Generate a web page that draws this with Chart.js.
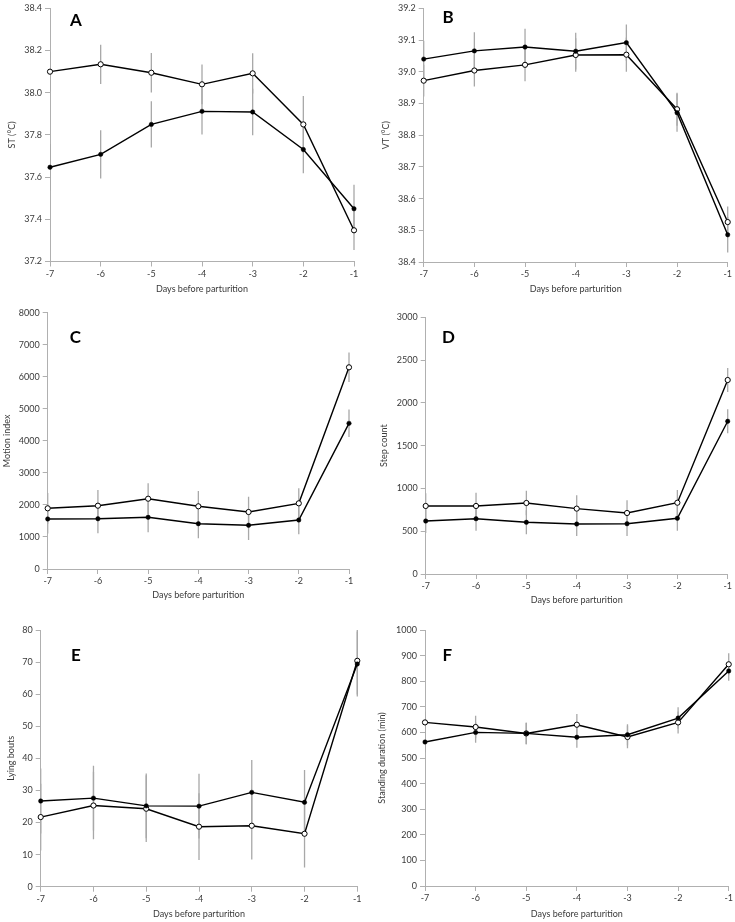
<!DOCTYPE html>
<html>
<head>
<meta charset="utf-8">
<script src="https://cdn.jsdelivr.net/npm/chart.js@4.4.1/dist/chart.umd.min.js"></script>
<style>
  html, body { margin: 0; padding: 0; background: #fff; }
  #page { position: relative; width: 735px; height: 922px; overflow: hidden; }
  canvas { position: absolute; }
</style>
</head>
<body>
<div id="page">
  <canvas id="chartA" width="365" height="300" style="left:0px;top:0px"></canvas>
  <canvas id="chartB" width="370" height="300" style="left:365px;top:0px"></canvas>
  <canvas id="chartC" width="365" height="310" style="left:0px;top:300px"></canvas>
  <canvas id="chartD" width="370" height="310" style="left:365px;top:300px"></canvas>
  <canvas id="chartE" width="365" height="312" style="left:0px;top:610px"></canvas>
  <canvas id="chartF" width="370" height="312" style="left:365px;top:610px"></canvas>
</div>
<script>
// x categories shared by all panels
const days = ['-7', '-6', '-5', '-4', '-3', '-2', '-1'];

// A - ST
const stFilled = [37.647, 37.708, 37.85, 37.912, 37.909, 37.731, 37.45];
const stFilledErr = [0.11, 0.114, 0.11, 0.11, 0.11, 0.112, 0.114];
const stOpen = [38.10, 38.135, 38.095, 38.04, 38.092, 37.85, 37.348];
const stOpenErr = [0.094, 0.093, 0.094, 0.094, 0.095, 0.135, 0.093];

// B - VT
const vtFilled = [39.04, 39.066, 39.078, 39.065, 39.092, 38.871, 38.486];
const vtFilledErr = [0.058, 0.059, 0.058, 0.058, 0.057, 0.06, 0.056];
const vtOpen = [38.972, 39.004, 39.022, 39.053, 39.054, 38.882, 38.526];
const vtOpenErr = [0.05, 0.05, 0.052, 0.053, 0.054, 0.052, 0.049];

// C - motion index
const miFilled = [1561, 1570, 1614, 1414, 1364, 1529, 4547];
const miFilledErr = [455, 456, 469, 456, 459, 446, 430];
const miOpen = [1894, 1976, 2194, 1957, 1779, 2050, 6295];
const miOpenErr = [480, 490, 481, 476, 478, 469, 460];

// D - step count
const scFilled = [619, 646, 604, 584, 588, 651, 1785];
const scFilledErr = [140, 140, 140, 140, 144, 145, 140];
const scOpen = [795, 795, 830, 764, 713, 833, 2267];
const scOpenErr = [150, 155, 144, 156, 148, 149, 141];

// E - lying bouts
const lbFilled = [26.7, 27.6, 25.2, 25.1, 29.4, 26.3, 69.4];
const lbFilledErr = [10.1, 10.1, 10.1, 10.1, 10.1, 10.1, 10.1];
const lbOpen = [21.7, 25.3, 24.3, 18.7, 19.0, 16.5, 70.4];
const lbOpenErr = [10.4, 10.5, 10.4, 10.4, 10.5, 10.5, 10.5];

// F - standing duration
const sdFilled = [562.5, 600, 596, 581, 591, 656, 840];
const sdFilledErr = [40, 40, 42, 41, 41, 42, 38];
const sdOpen = [639, 621, 596, 630, 582, 639, 866];
const sdOpenErr = [42, 44, 42, 42, 44, 43, 43];

Chart.defaults.font.family = 'Lato, "Open Sans", sans-serif';

const axisGrey = '#b0b0b0';
const textColor = '#3a3a3a';
const FS = 9;
const LH = FS * 1.2;

// grey vertical error bars, drawn under the lines
const errorBars = {
  id: 'errorBars',
  beforeDatasetsDraw(chart) {
    const { ctx, chartArea } = chart;
    const y = chart.scales.y;
    ctx.save();
    ctx.beginPath();
    ctx.rect(chartArea.left, chartArea.top, chartArea.width + 3, chartArea.height);
    ctx.clip();
    ctx.strokeStyle = '#a8a8a8';
    ctx.lineWidth = 1.3;
    chart.data.datasets.forEach((ds, di) => {
      const meta = chart.getDatasetMeta(di);
      ds.data.forEach((v, i) => {
        const e = ds.errs[i];
        const px = meta.data[i].x;
        ctx.beginPath();
        ctx.moveTo(px, y.getPixelForValue(v - e));
        ctx.lineTo(px, y.getPixelForValue(v + e));
        ctx.stroke();
      });
    });
    ctx.restore();
  }
};

// bold panel letter inside the plot
const panelLetter = {
  id: 'panelLetter',
  afterDraw(chart, args, opts) {
    const ctx = chart.ctx;
    ctx.save();
    ctx.font = 'bold 17px Lato, "Open Sans", sans-serif';
    ctx.fillStyle = '#000';
    ctx.textAlign = 'center';
    ctx.textBaseline = 'middle';
    ctx.fillText(opts.text, opts.x, opts.y);
    ctx.restore();
  }
};

function makePanel(id, p) {
  const canvas = document.getElementById(id);
  return new Chart(canvas, {
    type: 'line',
    data: {
      labels: days,
      datasets: [
        {
          data: p.filled, errs: p.filledErr,
          borderColor: '#000', borderWidth: 1.4,
          pointRadius: 2.2, pointBackgroundColor: '#000', pointBorderColor: '#000', pointBorderWidth: 0.5,
          clip: false
        },
        {
          data: p.open, errs: p.openErr,
          borderColor: '#000', borderWidth: 1.4,
          pointRadius: 2.6, pointBackgroundColor: '#fff', pointBorderColor: '#000', pointBorderWidth: 1,
          clip: false
        }
      ]
    },
    options: {
      responsive: false,
      animation: false,
      events: [],
      layout: {
        padding: {
          left: 0,
          top: p.top,
          right: canvas.width - p.right,
          bottom: canvas.height - p.xTitleY - LH / 2
        }
      },
      scales: {
        x: {
          grid: { drawOnChartArea: false, tickLength: 5, tickColor: axisGrey },
          border: { color: axisGrey, width: 1 },
          ticks: { color: textColor, font: { size: FS }, padding: 2, maxRotation: 0, autoSkip: false },
          title: { display: true, text: 'Days before parturition', color: textColor, font: { size: FS }, padding: 0 },
          afterFit: s => { s.height = p.xTitleY + LH / 2 - p.bottom; }
        },
        y: {
          min: p.min,
          max: p.max,
          grid: { drawOnChartArea: false, tickLength: 5, tickColor: axisGrey },
          border: { color: axisGrey, width: 1 },
          ticks: {
            stepSize: p.step,
            color: textColor,
            font: { size: FS },
            padding: 3,
            callback: v => Number(v).toFixed(p.dec)
          },
          title: {
            display: true, text: p.yTitle, color: textColor, font: { size: FS },
            padding: { top: p.yTitleX - LH / 2, bottom: 0 }
          },
          afterFit: s => { s.width = p.left; }
        }
      },
      plugins: {
        legend: { display: false },
        tooltip: { enabled: false },
        panelLetter: { text: p.letter, x: p.letterX, y: p.letterY }
      }
    },
    plugins: [errorBars, panelLetter]
  });
}

makePanel('chartA', {
  filled: stFilled, filledErr: stFilledErr, open: stOpen, openErr: stOpenErr,
  min: 37.2, max: 38.4, step: 0.2, dec: 1, yTitle: 'ST (°C)', letter: 'A',
  left: 50, right: 354, top: 5.5, bottom: 261.5, xTitleY: 289, yTitleX: 11.7,
  letterX: 76, letterY: 21
});

makePanel('chartB', {
  filled: vtFilled, filledErr: vtFilledErr, open: vtOpen, openErr: vtOpenErr,
  min: 38.4, max: 39.2, step: 0.1, dec: 1, yTitle: 'VT (°C)', letter: 'B',
  left: 58.7, right: 362.7, top: 5.3, bottom: 262, xTitleY: 288.7, yTitleX: 20.7,
  letterX: 83, letterY: 17.5
});

makePanel('chartC', {
  filled: miFilled, filledErr: miFilledErr, open: miOpen, openErr: miOpenErr,
  min: 0, max: 8000, step: 1000, dec: 0, yTitle: 'Motion index', letter: 'C',
  left: 47.7, right: 349, top: 12.7, bottom: 269, xTitleY: 295, yTitleX: 6.7,
  letterX: 75.3, letterY: 37.5
});

makePanel('chartD', {
  filled: scFilled, filledErr: scFilledErr, open: scOpen, openErr: scOpenErr,
  min: 0, max: 3000, step: 500, dec: 0, yTitle: 'Step count', letter: 'D',
  left: 60.7, right: 362.7, top: 17.3, bottom: 274, xTitleY: 300, yTitleX: 19.3,
  letterX: 83.5, letterY: 37.5
});

makePanel('chartE', {
  filled: lbFilled, filledErr: lbFilledErr, open: lbOpen, openErr: lbOpenErr,
  min: 0, max: 80, step: 10, dec: 0, yTitle: 'Lying bouts', letter: 'E',
  left: 40.7, right: 357.3, top: 20, bottom: 276.7, xTitleY: 304, yTitleX: 11,
  letterX: 75.8, letterY: 45.8
});

makePanel('chartF', {
  filled: sdFilled, filledErr: sdFilledErr, open: sdOpen, openErr: sdOpenErr,
  min: 0, max: 1000, step: 100, dec: 0, yTitle: 'Standing duration (min)', letter: 'F',
  left: 60, right: 364.3, top: 20, bottom: 276, xTitleY: 304, yTitleX: 17.3,
  letterX: 82.2, letterY: 45.8
});
</script>
</body>
</html>
